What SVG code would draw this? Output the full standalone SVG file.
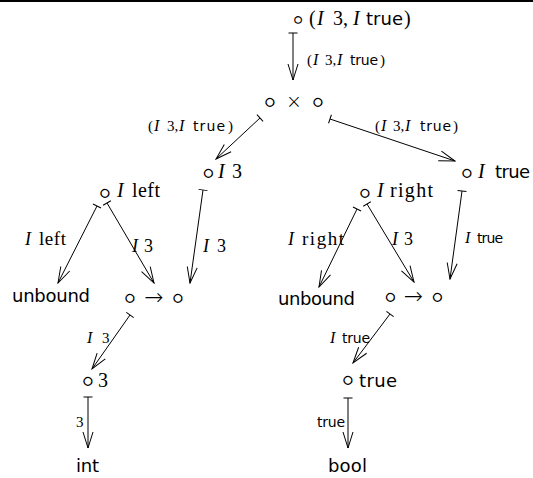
<svg xmlns="http://www.w3.org/2000/svg" width="533" height="478" viewBox="0 0 533 478">
<style>
text{fill:#000}
.r{font-family:"DejaVu Sans",sans-serif;font-weight:200;font-size:34px;text-anchor:middle}
.op{font-family:"DejaVu Sans",sans-serif;font-weight:200;text-anchor:middle}
.sv{font-family:"Liberation Serif",serif;font-size:20px}
.it{font-family:"Liberation Serif",serif;font-style:italic;font-size:20px}
.ss{font-family:"DejaVu Sans","Liberation Sans",sans-serif;font-size:18px}
.lsv{font-family:"Liberation Serif",serif;font-size:15px}
.lit{font-family:"Liberation Serif",serif;font-style:italic;font-size:16px}
.lss{font-family:"DejaVu Sans","Liberation Sans",sans-serif;font-size:14px}
.e{stroke:#000;stroke-width:1;fill:none;marker-start:url(#tick);marker-end:url(#head)}
</style>
<defs>
<marker id="head" viewBox="-17 -6 18 12" refX="0" refY="0" markerWidth="18" markerHeight="12" markerUnits="userSpaceOnUse" orient="auto">
<path d="M-16,-5 L0,0 L-16,5" fill="none" stroke="#000" stroke-width="1"/>
</marker>
<marker id="tick" viewBox="-1 -5 2 10" refX="0" refY="0" markerWidth="2" markerHeight="10" markerUnits="userSpaceOnUse" orient="auto">
<path d="M0,-4.5 L0,4.5" stroke="#000" stroke-width="1"/>
</marker>
</defs>
<rect x="0" y="0" width="533" height="2" fill="#000"/>
<g id="connectors">
<line class="e" x1="293" y1="33" x2="293" y2="80"/>
<text class="lsv" x="307" y="65">(</text><text class="lit" x="313" y="65">I</text><text class="lsv" x="325" y="65">3,</text><text class="lit" x="337" y="65">I</text><text class="lss" x="350" y="65" textLength="28">true</text><text class="lsv" x="380" y="65">)</text>

<line class="e" x1="260" y1="118" x2="216" y2="159"/>
<text class="lsv" x="148" y="131">(</text><text class="lit" x="154" y="131">I</text><text class="lsv" x="167" y="131">3,</text><text class="lit" x="179" y="131">I</text><text class="lss" x="193" y="131" textLength="32">true</text><text class="lsv" x="228" y="131">)</text>

<line class="e" x1="330" y1="119" x2="455" y2="161"/>
<text class="lsv" x="375" y="131">(</text><text class="lit" x="381" y="131">I</text><text class="lsv" x="393" y="131">3,</text><text class="lit" x="405" y="131">I</text><text class="lss" x="420" y="131" textLength="31">true</text><text class="lsv" x="453" y="131">)</text>

<line class="e" x1="97" y1="206" x2="58" y2="283"/>
<text class="it" x="25" y="245" style="font-size:18px">I</text><text class="sv" x="39" y="245" textLength="27" style="font-size:19px">left</text>

<line class="e" x1="107" y1="203" x2="154" y2="283"/>
<text class="it" x="132" y="252" style="font-size:18px">I</text><text class="sv" x="144" y="252" style="font-size:18px">3</text>

<line class="e" x1="203" y1="190" x2="190" y2="283"/>
<text class="it" x="203" y="252" style="font-size:18px">I</text><text class="sv" x="217" y="252" style="font-size:18px">3</text>

<line class="e" x1="357" y1="209" x2="319" y2="287"/>
<text class="it" x="288" y="245" style="font-size:18px">I</text><text class="sv" x="302" y="245" textLength="42" style="font-size:19px">right</text>

<line class="e" x1="367" y1="204" x2="414" y2="282"/>
<text class="it" x="392" y="245" style="font-size:18px">I</text><text class="sv" x="404" y="245" style="font-size:18px">3</text>

<line class="e" x1="462" y1="191" x2="450" y2="279"/>
<text class="lit" x="465" y="243">I</text><text class="lss" x="477" y="243" textLength="26">true</text>

<line class="e" x1="130" y1="315" x2="92" y2="369"/>
<text class="lit" x="87" y="343">I</text><text class="lsv" x="102" y="343">3</text>

<line class="e" x1="390" y1="314" x2="353" y2="363"/>
<text class="lit" x="330" y="343">I</text><text class="lss" x="342" y="343" textLength="28">true</text>

<line class="e" x1="88" y1="397" x2="88" y2="448"/>
<text class="lsv" x="76" y="427">3</text>

<line class="e" x1="348" y1="398" x2="348" y2="448"/>
<text class="lss" x="317" y="427" textLength="28">true</text>
</g>

<g id="n-root">
<text class="r" x="298" y="29" style="font-size:29px">∘</text>
<text class="sv" x="309" y="25">(</text><text class="it" x="317" y="25">I</text><text class="sv" x="333" y="25">3,</text><text class="it" x="353" y="25">I</text><text class="ss" x="366" y="25" textLength="37">true</text><text class="sv" x="404" y="25">)</text>
</g>
<g id="n-prod">
<text class="r" x="270" y="112.5">∘</text>
<text class="op" x="294" y="108" style="font-size:19px">×</text>
<text class="r" x="318" y="112.5">∘</text>
</g>
<g id="n-i3">
<text class="r" x="208.5" y="184">∘</text>
<text class="it" x="218" y="178">I</text><text class="sv" x="232" y="178">3</text>
</g>
<g id="n-itrue">
<text class="r" x="467" y="184">∘</text>
<text class="it" x="478" y="178">I</text><text class="ss" x="495" y="178" textLength="35">true</text>
</g>
<g id="n-ileft">
<text class="r" x="105" y="203.5">∘</text>
<text class="it" x="117" y="197">I</text><text class="sv" x="132" y="197" textLength="28">left</text>
</g>
<g id="n-iright">
<text class="r" x="365" y="203.5">∘</text>
<text class="it" x="377" y="197">I</text><text class="sv" x="390" y="197" textLength="43">right</text>
</g>
<g id="n-unbound1"><text class="ss" x="12" y="302" textLength="78">unbound</text></g>
<g id="n-fun1">
<text class="r" x="130" y="309">∘</text>
<text class="op" x="154" y="305" style="font-size:23px">→</text>
<text class="r" x="178" y="309">∘</text>
</g>
<g id="n-unbound2"><text class="ss" x="278" y="305" textLength="77">unbound</text></g>
<g id="n-fun2">
<text class="r" x="390.5" y="308">∘</text>
<text class="op" x="413.5" y="304" style="font-size:23px">→</text>
<text class="r" x="437.5" y="308">∘</text>
</g>
<g id="n-3">
<text class="r" x="88" y="392">∘</text>
<text class="sv" x="98" y="387">3</text>
</g>
<g id="n-true">
<text class="r" x="348" y="391">∘</text>
<text class="ss" x="359" y="387" textLength="38">true</text>
</g>
<g id="n-int"><text class="ss" x="76" y="472" textLength="23">int</text></g>
<g id="n-bool"><text class="ss" x="328" y="472" textLength="39">bool</text></g>
</svg>
